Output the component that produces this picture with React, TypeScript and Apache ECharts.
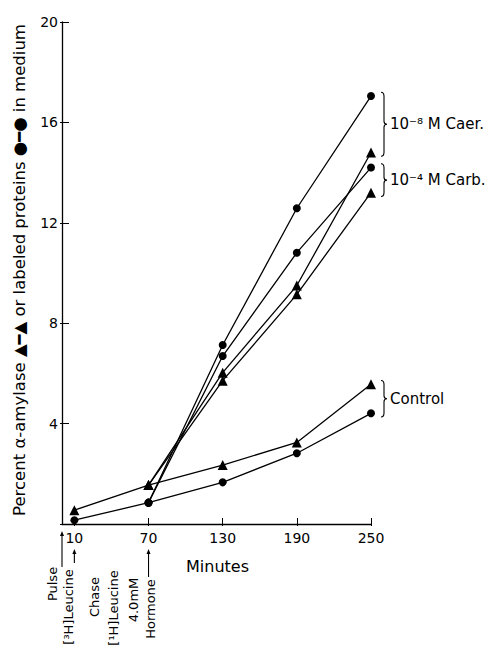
import React, { useEffect, useRef } from "react";
import * as echarts from "echarts";

const minutes = [10, 70, 130, 190, 250];
const controlProtein = [0.15, 0.85, 1.66, 2.82, 4.41];
const controlAmylase = [0.55, 1.55, 2.35, 3.25, 5.57];
const caerProtein = [null, 0.85, 7.13, 12.58, 17.05];
const caerAmylase = [null, 1.55, 6.03, 9.5, 14.8];
const carbProtein = [null, 0.85, 6.69, 10.81, 14.2];
const carbAmylase = [null, 1.55, 5.71, 9.15, 13.2];
const xTickValues = [10, 70, 130, 190, 250];
const yTickValues = [4, 8, 12, 16, 20];
const groupLabels = ["10⁻⁸ M Caer.", "10⁻⁴ M Carb.", "Control"];
const yAxisTitle = "Percent α-amylase ▲━▲ or labeled proteins ●━● in medium";
const xAxisTitle = "Minutes";

const FONT = "DejaVu Sans";

function pairs(vals: (number | null)[]) {
  return minutes
    .map((m, i) => [m, vals[i]])
    .filter((d) => d[1] !== null) as number[][];
}

export default function App() {
  const ref = useRef<HTMLDivElement>(null);
  useEffect(() => {
    if (!ref.current) return;
    const chart = echarts.init(ref.current, undefined, { renderer: "svg" });
    const lineStyle = { color: "#000", width: 1.3 };
    const mk = (name: string, vals: (number | null)[], symbol: string, size: number) => ({
      name,
      type: "line",
      data: pairs(vals),
      symbol,
      symbolSize: size,
      showSymbol: true,
      lineStyle,
      itemStyle: { color: "#000" },
      emphasis: { disabled: true },
      silent: true,
      z: 3,
    });
    const xBase = {
      type: "value",
      min: 0,
      max: 250,
      splitLine: { show: false },
    };
    const yBase = {
      type: "value",
      min: 0,
      max: 20,
      interval: 4,
      splitLine: { show: false },
    };
    chart.setOption({
      animation: false,
      grid: { left: 62, top: 22, right: 117, bottom: 122, containLabel: false, outerBoundsMode: "none" },
      xAxis: [
        {
          ...xBase,
          axisLine: { show: true, lineStyle: { color: "#000", width: 1.3 } },
          axisTick: { show: true, inside: true, length: 6, customValues: xTickValues, lineStyle: { color: "#000", width: 1 } },
          axisLabel: { show: true, customValues: xTickValues, color: "#000", fontFamily: FONT, fontSize: 14, margin: 7 },
        },
        {
          ...xBase,
          position: "bottom",
          axisLine: { show: false },
          axisTick: { show: true, inside: false, length: 2, customValues: xTickValues, lineStyle: { color: "#000", width: 1 } },
          axisLabel: { show: false },
        },
      ],
      yAxis: [
        {
          ...yBase,
          axisLine: { show: true, lineStyle: { color: "#000", width: 1.3 } },
          axisTick: { show: true, inside: true, length: 7, lineStyle: { color: "#000", width: 1 } },
          axisLabel: {
            show: true,
            color: "#000",
            fontFamily: FONT,
            fontSize: 14,
            margin: 4,
            formatter: (v: number) => (yTickValues.includes(v) ? String(v) : ""),
          },
        },
        {
          ...yBase,
          position: "left",
          axisLine: { show: false },
          axisTick: { show: true, inside: false, length: 2, lineStyle: { color: "#000", width: 1 } },
          axisLabel: { show: false },
        },
      ],
      series: [
        mk("controlProtein", controlProtein, "circle", 8),
        mk("controlAmylase", controlAmylase, "triangle", 10),
        mk("caerProtein", caerProtein, "circle", 8),
        mk("caerAmylase", caerAmylase, "triangle", 10),
        mk("carbProtein", carbProtein, "circle", 8),
        mk("carbAmylase", carbAmylase, "triangle", 10),
      ],
    });

    const px = (x: number, y: number) =>
      chart.convertToPixel({ xAxisIndex: 0, yAxisIndex: 0 }, [x, y]) as number[];

    const groups = [
      [caerProtein[4] as number, caerAmylase[4] as number],
      [carbProtein[4] as number, carbAmylase[4] as number],
      [controlAmylase[4], controlProtein[4]],
    ];
    const graphics: any[] = [];
    groups.forEach((g, i) => {
      const hi = Math.max(...g) + 0.15;
      const lo = Math.min(...g) - 0.15;
      const pTop = px(250, hi);
      const pBot = px(250, lo);
      const x0 = pTop[0] + 10;
      const y0 = pTop[1];
      const y1 = pBot[1];
      const w = 6;
      const mid = (y0 + y1) / 2;
      const xm = x0 + w / 2;
      const d = `M${x0} ${y0} Q${xm} ${y0} ${xm} ${y0 + 4} L${xm} ${mid - 3} Q${xm} ${mid} ${x0 + w} ${mid} Q${xm} ${mid} ${xm} ${mid + 3} L${xm} ${y1 - 4} Q${xm} ${y1} ${x0} ${y1}`;
      const nm = "brace" + i;
      echarts.graphic.registerShape(nm, echarts.graphic.extendPath(d, {}));
      graphics.push({
        type: nm,
        silent: true,
        style: { stroke: "#000", fill: "none", lineWidth: 1.1 },
      });
      graphics.push({
        type: "text",
        x: x0 + w + 3,
        y: mid,
        silent: true,
        style: {
          text: groupLabels[i],
          fill: "#000",
          font: `15px "${FONT}"`,
          align: "left",
          verticalAlign: "middle",
        },
      });
    });

    // axis titles
    graphics.push({
      type: "text",
      x: 19,
      y: 270,
      rotation: Math.PI / 2,
      silent: true,
      style: {
        text: yAxisTitle,
        fill: "#000",
        font: `16.5px "${FONT}"`,
        align: "center",
        verticalAlign: "middle",
      },
    });
    const p0 = px(0, 0);
    const p10 = px(10, 0);
    const p70 = px(70, 0);
    graphics.push({
      type: "text",
      x: (px(0, 0)[0] + px(250, 0)[0]) / 2 + 1,
      y: 566,
      silent: true,
      style: { text: xAxisTitle, fill: "#000", font: `16px "${FONT}"`, align: "center", verticalAlign: "middle" },
    });

    // arrows
    const arrow = (x: number, yTop: number, yBot: number) => {
      graphics.push({
        type: "line",
        silent: true,
        shape: { x1: x, y1: yTop + 3, x2: x, y2: yBot },
        style: { stroke: "#000", lineWidth: 1.1 },
      });
      graphics.push({
        type: "polygon",
        silent: true,
        shape: { points: [[x, yTop], [x - 2, yTop + 5], [x + 2, yTop + 5]] },
        style: { fill: "#000" },
      });
    };
    arrow(p0[0], 531, 567);
    arrow(p10[0], 549, 563);
    arrow(p70[0], 549, 577);

    const vtext = (text: string, x: number, y: number) =>
      graphics.push({
        type: "text",
        x,
        y,
        rotation: Math.PI / 2,
        silent: true,
        style: { text, fill: "#000", font: `13px "${FONT}"`, align: "center", verticalAlign: "middle" },
      });
    vtext("Pulse", 52, 584);
    vtext("[³H]Leucine", 68, 607);
    vtext("Chase", 94, 597);
    vtext("[¹H]Leucine", 113, 608);
    vtext("4.0mM", 133, 600);
    vtext("Hormone", 150, 609);

    chart.setOption({ graphic: graphics });

    return () => chart.dispose();
  }, []);
  return (
    <div
      ref={ref}
      style={{ position: "fixed", left: 0, top: 0, width: 488, height: 646, background: "#fff" }}
    />
  );
}
